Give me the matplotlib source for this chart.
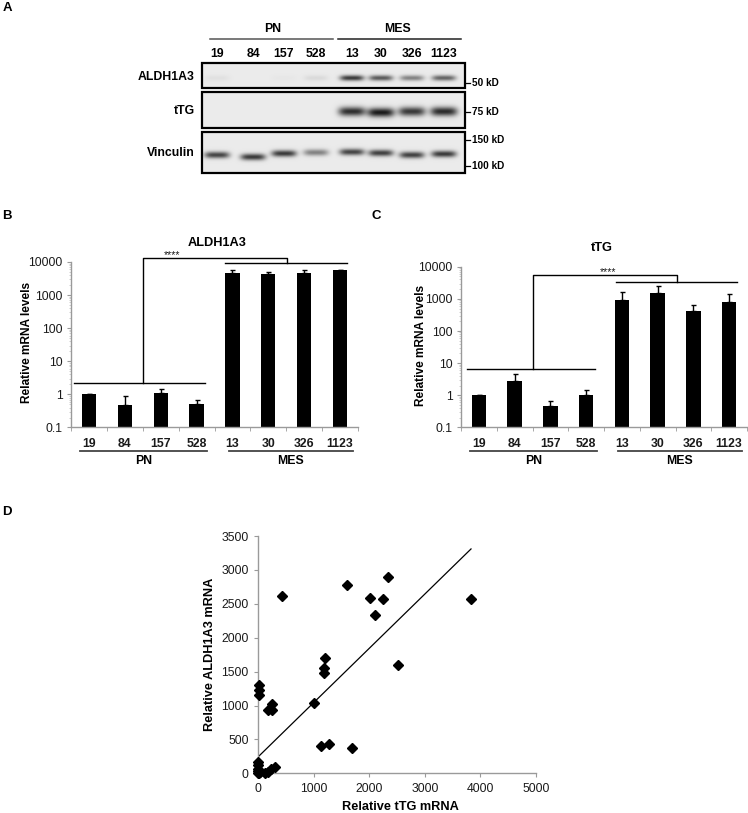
import numpy as np
import matplotlib
matplotlib.use("Agg")
import matplotlib.pyplot as plt
from matplotlib import transforms
from matplotlib.patches import Rectangle
from matplotlib.font_manager import FontProperties, findfont
from matplotlib.ticker import LogLocator, NullFormatter

W, H = 748, 813

# ---- data ----
lines_pn = ["19", "84", "157", "528"]
lines_mes = ["13", "30", "326", "1123"]
cell_lines = lines_pn + lines_mes

# western blot band strength per lane (0 = no band, 1 = strong)
wb_aldh = [0.05, 0.0, 0.02, 0.08, 0.85, 0.70, 0.50, 0.65]
wb_ttg = [0.0, 0.0, 0.0, 0.0, 0.90, 1.0, 0.85, 0.92]
wb_vinc = [0.80, 0.85, 0.85, 0.50, 0.80, 0.82, 0.82, 0.85]

# qPCR, relative mRNA levels (mean, upper error)
aldh_mrna = [1.0, 0.48, 1.1, 0.5, 4700, 4200, 4500, 5600]
aldh_err = [0.02, 0.40, 0.35, 0.17, 1200, 800, 1300, 200]
ttg_mrna = [1.0, 2.8, 0.47, 1.0, 920, 1510, 415, 810]
ttg_err = [0.03, 1.7, 0.21, 0.5, 660, 1090, 220, 560]

# correlation, panel D
ttg_rel = [0, 0, 0, 0, 0, 10, 30, 120, 180, 230, 300,
           10, 15, 5, 170, 240, 250, 430, 1000,
           1180, 1180, 1200, 1130, 1270, 1690,
           1600, 2010, 2100, 2250, 2330, 2510, 3830]
aldh_rel = [170, 120, 70, 30, 5, 0, 20, 0, 20, 60, 100,
            1300, 1230, 1155, 935, 1020, 930, 2610, 1040,
            1480, 1560, 1700, 400, 435, 380,
            2770, 2580, 2330, 2570, 2890, 1600, 2570]
trend_icpt, trend_slope = 245, 0.80

# ---- fonts ----
plt.rcParams['font.family'] = ['Liberation Sans', 'DejaVu Sans']
try:
    findfont(FontProperties(family='Liberation Sans Narrow', weight='bold'),
             fallback_to_default=False)
    blot_font, blot_fs = ['Liberation Sans Narrow', 'Liberation Sans'], 10.5
except ValueError:
    blot_font, blot_fs = ['Liberation Sans', 'DejaVu Sans'], 8.8

AXC = '#9a9a9a'
TXT = '#1a1a1a'

fig = plt.figure(figsize=(W / 100, H / 100), dpi=100)


def px_rect(x0, y0, x1, y1):
    return [x0 / W, 1 - y1 / H, (x1 - x0) / W, (y1 - y0) / H]


# overlay in pixel coordinates for panel A and free text
ov = fig.add_axes([0, 0, 1, 1])
ov.set_xlim(0, W)
ov.set_ylim(H, 0)
ov.axis('off')

# ---- panel letters ----
for letter, lx, ly in [("A", 7, 8), ("B", 7, 216), ("C", 376, 216), ("D", 7, 512)]:
    ov.text(lx, ly, letter, fontsize=9.5, fontweight='bold', ha='center', va='center')

# ---- panel A: western blot ----
lane_x = [217, 253, 284, 316, 352, 381, 412, 444]
bx0, bx1 = 202, 465
vinc_shift = [1, 3, -0.5, -1.5, -2, -1, 1, 0]
blots = [
    ("ALDH1A3", wb_aldh, 63, 88, 78, 12, 2.8, [0] * 8),
    ("tTG", wb_ttg, 92, 128, 111.5, 13.5, 4.6, [0, 0, 0, 0, 0, 1, 0, 0]),
    ("Vinculin", wb_vinc, 132, 173, 154, 12.5, 3.3, vinc_shift),
]
for name, vals, y0, y1, yc, hw, hh, shifts in blots:
    xs = np.linspace(bx0, bx1, (bx1 - bx0) * 4)
    ys = np.linspace(y0, y1, (y1 - y0) * 4)
    X, Y = np.meshgrid(xs, ys)
    dark = np.zeros_like(X)
    for lx, v, s in zip(lane_x, vals, shifts):
        dark += v * np.exp(-np.abs((X - lx) / hw) ** 4) * np.exp(-((Y - yc - s) / hh) ** 2)
    img = 0.92 - 0.82 * np.clip(dark, 0, 1)
    ov.imshow(img, extent=(bx0, bx1, y1, y0), cmap='gray', vmin=0, vmax=1,
              aspect='auto', interpolation='bilinear', zorder=1)
    ov.add_patch(Rectangle((bx0, y0), bx1 - bx0, y1 - y0, fill=False,
                           ec='black', lw=1.6, zorder=2))
    ov.text(195, (y0 + y1) / 2 + 1, name, ha='right', va='center',
            fontsize=blot_fs, fontweight='bold', family=blot_font)

for lx, lab in zip(lane_x, cell_lines):
    ov.text(lx, 54, lab, ha='center', va='center', fontsize=blot_fs,
            fontweight='bold', family=blot_font)
ov.plot([210, 333], [39, 39], color='#555555', lw=1.1)
ov.plot([338, 461], [39, 39], color='#222222', lw=1.1)
ov.text(273, 29, "PN", ha='center', va='center', fontsize=blot_fs,
        fontweight='bold', family=blot_font)
ov.text(398, 29, "MES", ha='center', va='center', fontsize=blot_fs,
        fontweight='bold', family=blot_font)
for my, mlab in [(83, "50 kD"), (112, "75 kD"), (140, "150 kD"), (166, "100 kD")]:
    ov.plot([bx1, bx1 + 5], [my, my], color='black', lw=0.9)
    ov.text(bx1 + 7, my, mlab, ha='left', va='center', fontsize=7.2,
            fontweight='bold', family=blot_font)


# ---- panels B and C: bar charts ----
def bar_panel(rect, vals, errs, title, title_xy, ylab_x, bracket):
    ax = fig.add_axes(px_rect(*rect))
    x = np.arange(len(cell_lines))
    ax.bar(x, vals, width=0.4, color='black', log=True, zorder=2)
    ax.errorbar(x, vals, yerr=[np.zeros(len(vals)), errs], fmt='none',
                ecolor='black', elinewidth=1.0, capsize=1.8, capthick=1.0, zorder=3)
    ax.set_ylim(0.1, 10000)
    ax.set_xlim(-0.5, len(cell_lines) - 0.5)
    ax.set_yticks([0.1, 1, 10, 100, 1000, 10000])
    ax.set_yticklabels(["0.1", "1", "10", "100", "1000", "10000"])
    ax.yaxis.set_minor_locator(LogLocator(base=10, subs=np.arange(2, 10)))
    ax.yaxis.set_minor_formatter(NullFormatter())
    ax.set_xticks(x)
    ax.set_xticklabels(cell_lines, fontweight='bold', fontsize=8.8)
    ax.set_xticks(np.arange(-0.5, len(cell_lines)), minor=True)
    ax.tick_params(axis='x', which='major', length=0, pad=7.5, colors=TXT)
    ax.tick_params(axis='x', which='minor', length=3, color=AXC, direction='out')
    ax.tick_params(axis='y', which='major', length=3, color=AXC, labelsize=8.8,
                   labelcolor=TXT, pad=3)
    ax.tick_params(axis='y', which='minor', length=1.5, color='#c8c8c8')
    for sp in ['top', 'right']:
        ax.spines[sp].set_visible(False)
    for sp in ['left', 'bottom']:
        ax.spines[sp].set_color(AXC)
        ax.spines[sp].set_linewidth(1.0)

    # significance bracket
    (p0, p1, py), vx, (topy, tx1, my), (m0, m1), sx = bracket
    kw = dict(color='black', lw=1.0, clip_on=False, zorder=4)
    ax.plot([p0, p1], [py, py], **kw)
    ax.plot([vx, vx, tx1, tx1], [py, topy, topy, my], **kw)
    ax.plot([m0, m1], [my, my], **kw)
    ax.text(sx, topy, "****", ha='center', va='baseline', fontsize=7.5, color=TXT)

    ov.text(title_xy[0], title_xy[1], title, ha='center', va='center',
            fontsize=9.2, fontweight='bold')
    ov.text(ylab_x, (rect[1] + rect[3]) / 2 - 2, "Relative mRNA levels", rotation=90,
            ha='center', va='center', fontsize=8.6, fontweight='bold')

    # PN / MES groups under the axis
    tr = transforms.blended_transform_factory(ax.transData, ov.transData)
    for (g0, g1), glab in [((-0.25, 3.3), "PN"), ((3.9, 7.35), "MES")]:
        ov.plot([g0, g1], [451, 451], color='#444444', lw=1.3, transform=tr, clip_on=False)
        ov.text((g0 + g1) / 2, 460.5, glab, ha='center', va='center', fontsize=8.8,
                fontweight='bold', transform=tr)
    return ax


bar_panel((71, 262, 358, 427.5), aldh_mrna, aldh_err, "ALDH1A3", (217, 243), 27,
          ((-0.42, 3.23, 2.2), 1.5, (13500, 5.52, 9100), (3.79, 7.19), 2.31))
bar_panel((461, 266.7, 747, 427.5), ttg_mrna, ttg_err, "tTG", (602, 248), 421,
          ((-0.33, 3.25, 6.6), 1.51, (5500, 5.54, 3400), (3.84, 7.22), 3.61))

# ---- panel D: scatter with trend line ----
axd = fig.add_axes(px_rect(258.3, 536, 536, 773.3))
axd.plot(ttg_rel, aldh_rel, 'D', color='black', markersize=5.3, clip_on=False, zorder=3)
xx = np.array([0, max(ttg_rel)])
axd.plot(xx, trend_icpt + trend_slope * xx, color='black', lw=0.9, zorder=2)
axd.set_xlim(0, 5000)
axd.set_ylim(0, 3500)
axd.set_xticks(np.arange(0, 5001, 1000))
axd.set_yticks(np.arange(0, 3501, 500))
axd.tick_params(length=3, color=AXC, labelsize=8.8, labelcolor=TXT, pad=4)
for sp in ['top', 'right']:
    axd.spines[sp].set_visible(False)
for sp in ['left', 'bottom']:
    axd.spines[sp].set_color(AXC)
    axd.spines[sp].set_linewidth(1.0)
ov.text(210, 654, "Relative ALDH1A3 mRNA", rotation=90, ha='center', va='center',
        fontsize=9.2, fontweight='bold')
ov.text(400, 807, "Relative tTG mRNA", ha='center', va='center',
        fontsize=9.2, fontweight='bold')

fig.savefig("out.png", dpi=100)
